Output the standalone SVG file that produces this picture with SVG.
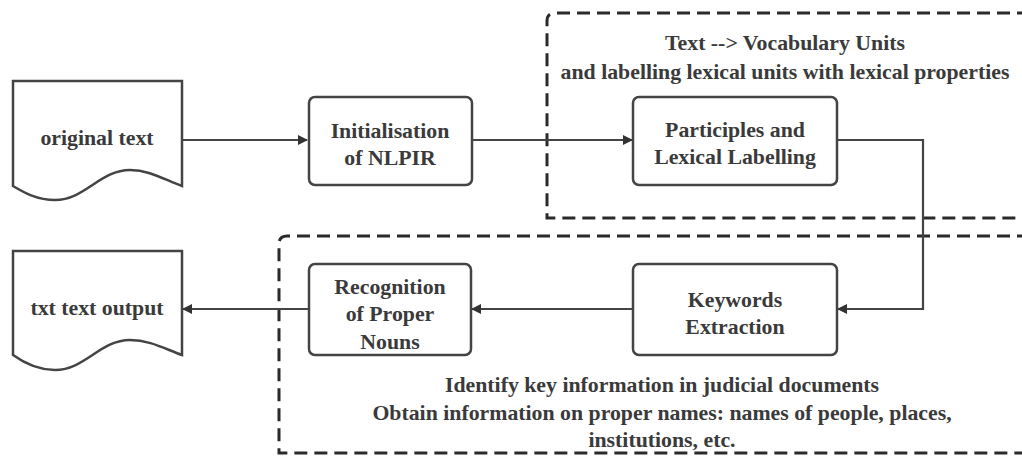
<svg xmlns="http://www.w3.org/2000/svg" width="1022" height="457" viewBox="0 0 1022 457">
<style>
.box{fill:#fff;stroke:#444;stroke-width:2.5}
.doc{fill:#fff;stroke:#444;stroke-width:2.5}
.grp{fill:none;stroke:#2a2a2a;stroke-width:3;stroke-dasharray:13 7}
.t{font-family:"Liberation Serif",Tinos,"DejaVu Serif",serif;font-weight:bold;font-size:21.8px;fill:#3a3a3a;text-anchor:middle}
.c{fill:none;stroke:#444;stroke-width:2.2}
</style>
<defs>
<marker id="ah" markerWidth="10" markerHeight="10" refX="9" refY="5" orient="auto" markerUnits="userSpaceOnUse" viewBox="0 0 10 10">
<path d="M0,0 L10,5 L0,10 z" fill="#333"/>
</marker>
</defs>
<rect width="1022" height="457" fill="#fff"/>
<g id="group-top">
<path class="grp" d="M1030,13 H555 Q547,13 547,21 V218 H1030"/>
<text class="t" x="785" y="50">Text --&gt; Vocabulary Units</text>
<text class="t" x="785" y="79">and labelling lexical units with lexical properties</text>
</g>
<g id="group-bottom">
<path class="grp" d="M1030,236 H287 Q279,236 279,244 V453 H1030"/>
<text class="t" x="662" y="392">Identify key information in judicial documents</text>
<text class="t" x="662" y="420">Obtain information on proper names: names of people, places,</text>
<text class="t" x="662" y="447">institutions, etc.</text>
</g>
<g id="connectors">
<path class="c" d="M182,140 H307" marker-end="url(#ah)"/>
<path class="c" d="M472,140 H632" marker-end="url(#ah)"/>
<path class="c" d="M837,140 H923 V309 H838" marker-end="url(#ah)"/>
<path class="c" d="M633,309 H472" marker-end="url(#ah)"/>
<path class="c" d="M309,309 H183" marker-end="url(#ah)"/>
</g>
<g id="original-text">
<path class="doc" d="M13,81 H182 V186 C165,180 150,170 130,170 C100,170 85,200 55,200 C35,200 20,190 13,186 Z"/>
<text class="t" x="97" y="145">original text</text>
</g>
<g id="init">
<rect class="box" x="309" y="97" width="163" height="88" rx="6"/>
<text class="t" x="390" y="138">Initialisation</text>
<text class="t" x="390" y="165">of NLPIR</text>
</g>
<g id="participles">
<rect class="box" x="633" y="97" width="204" height="88" rx="6"/>
<text class="t" x="735" y="137">Participles and</text>
<text class="t" x="735" y="164">Lexical Labelling</text>
</g>
<g id="keywords">
<rect class="box" x="633" y="264" width="204" height="91" rx="6"/>
<text class="t" x="735" y="307">Keywords</text>
<text class="t" x="735" y="334">Extraction</text>
</g>
<g id="recognition">
<rect class="box" x="309" y="264" width="162" height="91" rx="6"/>
<text class="t" x="390" y="294">Recognition</text>
<text class="t" x="390" y="321">of Proper</text>
<text class="t" x="390" y="349">Nouns</text>
</g>
<g id="txt-output">
<path class="doc" d="M13,251 H182 V355 C165,349 150,340 130,340 C100,340 85,370 55,370 C35,370 20,360 13,355 Z"/>
<text class="t" x="97" y="315">txt text output</text>
</g>
</svg>
